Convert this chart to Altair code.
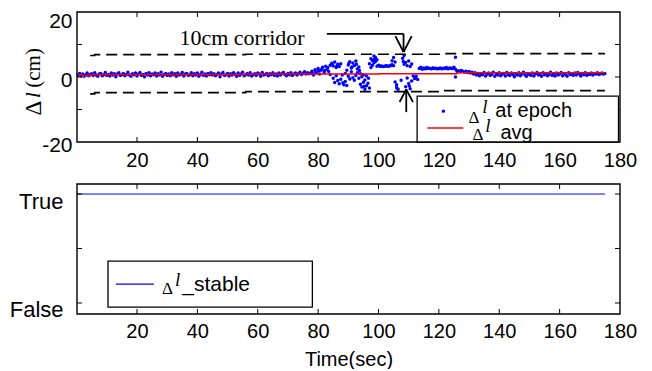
import altair as alt
import pandas as pd

BLUE = "#0000ff"
RED = "#ff0000"
SANS = "Liberation Sans"
SERIF = "Liberation Serif"

# ---------------- data ----------------
x_ticks = [20, 40, 60, 80, 100, 120, 140, 160, 180]
y_ticks_top = [-20, -10, 0, 10, 20]
y_ticks_bottom = [0, 0.5, 1]

# stable band before the disturbance, epochs every 0.5 s starting at 0.5 s
band1_start = 0.5
band1_vals = [
    0.6, 1.1, 0.3, 0.9, 0.2, 0.7, 1.2, 0.4, 0.8, 1.0,
    0.5, 1.3, 0.6, 0.2, 0.9, 1.1, 0.4, 0.7, 1.4, 0.5,
    0.8, 0.3, 1.2, 0.6, 1.0, 0.1, 0.9, 1.3, 0.5, 0.7,
    1.1, 0.4, 0.8, 1.5, 0.6, 0.2, 1.0, 0.7, 1.2, 0.3,
    0.9, 1.4, 0.5, 0.8, 0.1, 1.1, 0.6, 1.3, 0.4, 0.9,
    0.7, 1.2, 0.3, 1.0, 0.6, 1.5, 0.2, 0.8, 1.1, 0.5,
    0.9, 0.4, 1.3, 0.7, 1.0, 0.2, 1.2, 0.6, 0.8, 1.4,
    0.3, 0.9, 1.1, 0.5, 0.7, 1.3, 0.4, 1.0, 0.6, 1.2,
    0.2, 0.8, 1.5, 0.5, 0.9, 0.3, 1.1, 0.7, 1.3, 0.6,
    1.0, 0.4, 0.8, 1.2, 0.1, 0.9, 1.4, 0.5, 0.7, 1.1,
    0.3, 1.0, 0.6, 1.3, 0.8, 0.2, 1.2, 0.5, 0.9, 1.5,
    0.4, 0.7, 1.1, 0.6, 1.3, 0.3, 0.8, 1.0, 0.5, 1.2,
    0.9, 0.2, 1.4, 0.6, 0.8, 1.1, 0.4, 1.0, 0.7, 1.3,
    0.5, 0.9, 0.3, 1.2, 0.6, 1.0, 1.4, 0.8, 0.4, 1.1,
    0.7, 1.3, 0.5, 0.9, 1.2, 0.6, 1.0, 1.5, 0.8, 1.1,
    1.6, 0.9, 1.3, 1.0,
]

# disturbed section (epoch time, value)
cluster_t = [
    77.5, 78.0, 78.5, 79.0, 79.5, 80.0, 80.5, 81.0, 81.5, 82.0,
    82.5, 83.0, 83.5, 84.0, 84.0, 84.5, 85.0, 85.0, 85.5, 85.5,
    86.0, 86.0, 86.5, 86.5, 87.0, 87.0, 87.5, 87.5, 88.0, 88.5,
    89.0, 89.0, 89.5, 89.5, 90.0, 90.0, 90.5, 90.5, 91.0, 91.0,
    91.5, 91.5, 92.0, 92.0, 92.5, 92.5, 93.0, 93.0, 93.5, 93.5,
    94.0, 94.0, 94.5, 94.5, 95.0, 95.0, 95.5, 95.5, 96.0, 96.0,
    96.5, 97.0, 97.0, 97.5, 97.5, 98.0, 98.0, 98.5, 98.5, 99.0,
    99.0, 99.5, 99.5, 100.0, 100.5, 101.0, 101.5, 102.0, 102.5, 103.0,
    103.5, 104.0, 104.5, 104.5, 105.0, 105.0, 105.5, 105.5, 106.0, 106.0,
    106.5, 107.5, 108.0, 108.5, 108.5, 109.0, 109.0, 109.5, 109.5, 110.0,
    110.0, 110.5, 110.5, 111.0, 111.0, 111.5, 112.0, 112.5, 113.0, 113.5,
    114.0, 114.5, 115.0, 115.5, 116.0, 116.5, 117.0, 117.5, 118.0, 118.5,
    119.0, 119.5, 120.0, 120.5, 121.0, 121.5, 122.0, 122.5, 123.0, 123.5,
    124.0, 124.5, 125.0, 125.5, 125.5, 125.5, 126.0,
    78.2, 79.2, 80.2, 81.2, 82.2, 83.2, 84.7, 86.2, 88.2, 90.2,
    91.2, 92.7, 93.7, 95.2, 96.7, 98.7, 100.7, 102.7, 104.2, 106.2,
    108.2, 110.2, 112.2, 114.2, 116.2, 118.2, 120.2, 122.2, 124.2,
]
cluster_v = [
    1.2, 1.8, 0.6, 2.2, 1.3, 2.6, 0.9, 2.1, 3.0, 1.4,
    3.3, 2.4, 1.7, 3.6, 0.8, 4.2, 3.4, -0.4, 4.6, -1.7,
    2.9, 0.4, 3.9, -1.1, 3.2, -2.1, -0.7, 4.1, 0.6, -2.4,
    -1.4, 1.1, -2.6, 2.1, 3.7, 0.2, 4.7, -0.6, 2.8, 1.6,
    4.3, -0.2, 3.5, -1.0, 4.9, 0.5, 2.5, 1.3, -0.4, 3.1,
    -2.2, 1.0, -3.1, 0.1, -1.6, 0.7, -3.8, -0.9, -2.7, 0.4,
    -1.9, -3.4, 4.1, 5.6, 2.9, 3.6, 5.1, 6.5, 4.4, 4.8,
    6.0, 3.3, 5.3, 3.6, 3.3, 3.4, 3.2, 3.3, 3.5, 3.4,
    3.3, 3.6, 3.8, 5.0, 3.5, 6.0, 4.6, -1.5, -3.2, -2.4,
    -3.8, -1.0, 5.8, 6.6, 3.9, 4.5, -3.0, 3.5, -0.3, 4.9,
    -2.0, 3.2, -3.6, 4.0, -1.2, 0.3, -0.5, 0.2, -0.8, 2.6,
    3.0, 2.4, 2.8, 2.5, 2.9, 2.6, 2.7, 2.5, 2.8, 2.6,
    2.7, 2.5, 2.6, 2.8, 2.5, 2.7, 2.6, 2.9, 2.5, 2.8,
    2.7, 2.6, 3.0, 2.4, 6.1, 0.0, 1.8,
    1.0, 1.5, 1.9, 2.5, 2.0, 2.9, 3.9, 3.4, -1.8, 4.2,
    3.1, 3.9, 2.0, -2.9, -0.4, 5.5, 3.3, 3.4, 3.5, -3.5,
    4.8, -2.8, -0.2, 2.7, 2.8, 2.7, 2.6, 2.8, 2.6,
]

# stable band after the disturbance, epochs every 0.5 s starting at 126.5 s
band2_start = 126.5
band2_vals = [
    1.9, 1.6, 2.0, 1.7, 1.5, 1.8, 1.4, 1.7, 1.2, 1.5,
    0.9, 1.3, 0.6, 1.1, 0.4, 1.0, 0.7, 1.4, 0.3, 0.9,
    1.2, 0.5, 0.8, 1.5, 0.2, 1.0, 0.6, 1.3, 0.4, 0.9,
    1.1, 0.3, 1.4, 0.7, 0.5, 1.2, 0.8, 0.1, 1.0, 0.6,
    1.3, 0.4, 0.9, 1.5, 0.7, 0.2, 1.1, 0.8, 0.5, 1.2,
    0.3, 1.0, 1.4, 0.6, 0.9, 0.2, 1.3, 0.7, 1.1, 0.4,
    0.8, 1.5, 0.5, 1.0, 0.3, 1.2, 0.6, 0.9, 1.4, 0.4,
    1.1, 0.7, 0.2, 1.3, 0.8, 1.0, 0.5, 1.2, 0.6, 1.4,
    0.9, 0.3, 1.1, 0.7, 1.3, 0.5, 1.0, 0.8, 1.2, 0.6,
    1.1, 0.9, 1.3, 0.8, 1.0, 1.2, 0.9, 1.1,
]

# running average (step values)
avg_t = [0.13, 2.0, 4.5, 56.0, 100.0, 126.0, 175.0]
avg_v = [0.8, 0.3, 0.8, 0.9, 1.0, 1.3, 1.3]

# corridor bounds (step values)
upper_t = [4.5, 6.0, 56.0, 121.0, 175.0]
upper_v = [6.6, 6.9, 7.0, 7.2, 7.2]
lower_t = [4.5, 6.0, 56.0, 121.0, 175.0]
lower_v = [-5.2, -4.8, -4.5, -4.2, -4.2]

# stability flag
stable_t = [0.13, 175.0]
stable_v = [1, 1]

# ---------------- tables ----------------
t1 = [band1_start + 0.5 * i for i in range(len(band1_vals))]
t3 = [band2_start + 0.5 * i for i in range(len(band2_vals))]
epoch_df = pd.DataFrame({"t": t1 + cluster_t + t3, "v": band1_vals + cluster_v + band2_vals})
avg_df = pd.DataFrame({"t": avg_t, "v": avg_v})
corr_df = pd.DataFrame({
    "t": upper_t + lower_t,
    "v": upper_v + lower_v,
    "side": ["upper"] * len(upper_t) + ["lower"] * len(lower_t),
})
stable_df = pd.DataFrame({"t": stable_t, "v": stable_v})
one = pd.DataFrame({"k": [0]})

W, H = 543, 130
X_DOMAIN = [0.13, 180]
Y_TOP = [-20, 20]
Y_BOT = [-0.101, 1.092]
xs = alt.Scale(domain=X_DOMAIN, nice=False, zero=False, range=[0, W])
ys_top = alt.Scale(domain=Y_TOP, nice=False, zero=False)
ys_bot = alt.Scale(domain=Y_BOT, nice=False, zero=False)


def txt(s, x, y, font=SANS, size=21, style="normal", align="left", angle=0, baseline="alphabetic"):
    return alt.Chart(one).mark_text(
        text=s, align=align, baseline=baseline, font=font, fontSize=size,
        fontStyle=style, color="black", angle=angle,
    ).encode(x=alt.datum(x), y=alt.datum(y))


def seg(x1, y1, x2, y2, w=1.8, color="black"):
    return alt.Chart(one).mark_rule(color=color, strokeWidth=w).encode(
        x=alt.datum(x1), y=alt.datum(y1), x2=alt.datum(x2), y2=alt.datum(y2)
    )


def box(x1, y1, x2, y2, fill="white", w=1.3):
    return alt.Chart(one).mark_rect(fill=fill, stroke="black", strokeWidth=w).encode(
        x=alt.datum(x1), y=alt.datum(y1), x2=alt.datum(x2), y2=alt.datum(y2)
    )


def inner_ticks(ydom, tick_vals_y, xlen, ylen):
    xt = pd.DataFrame({"t": x_ticks[:-1]})
    yt = pd.DataFrame({"v": tick_vals_y})
    base_x = alt.Chart(xt).mark_rule(color="black", strokeWidth=1)
    base_y = alt.Chart(yt).mark_rule(color="black", strokeWidth=1)
    return [
        base_x.encode(x="t:Q", y=alt.datum(ydom[0]), y2=alt.datum(ydom[0] + ylen)),
        base_x.encode(x="t:Q", y=alt.datum(ydom[1]), y2=alt.datum(ydom[1] - ylen)),
        base_y.encode(y="v:Q", x=alt.datum(X_DOMAIN[0]), x2=alt.datum(X_DOMAIN[0] + xlen)),
        base_y.encode(y="v:Q", x=alt.datum(X_DOMAIN[1]), x2=alt.datum(X_DOMAIN[1] - xlen)),
        # plot frame
        box(X_DOMAIN[0], ydom[0], X_DOMAIN[1], ydom[1], fill="transparent", w=1.4),
    ]


# ---------------- top panel ----------------
pts = alt.Chart(epoch_df).mark_circle(size=12, color=BLUE, opacity=1).encode(
    x=alt.X("t:Q", scale=xs, axis=alt.Axis(
        values=x_ticks, title=None, labelFontSize=20, labelPadding=8, labelFlush=False)),
    y=alt.Y("v:Q", scale=ys_top, axis=alt.Axis(
        values=y_ticks_top, title=None, labelPadding=5, labelFontSize=21,
        labelExpr="datum.value < 0 ? '-' + (-datum.value) : '' + datum.value",
        labelOffset={"condition": {"test": "datum.value == 20", "value": 9}, "value": 3})),
)
avg_line = alt.Chart(avg_df).mark_line(color=RED, strokeWidth=1.5, interpolate="step-after").encode(
    x="t:Q", y="v:Q")
corr = alt.Chart(corr_df).mark_line(
    color="black", strokeWidth=1.6, strokeDash=[11, 6], interpolate="step-after"
).encode(x="t:Q", y="v:Q", detail="side:N")

top_layers = [pts, avg_line, corr]
top_layers += inner_ticks(Y_TOP, [-10, 0, 10], 1.66, 1.54)
top_layers += [
    # y-axis title, built from pieces (upright delta, italic l, units)
    txt("Δ", -14.2, -9.6, font=SERIF, size=23, angle=270, align="center", baseline="middle"),
    txt("l", -14.2, -5.6, font=SERIF, size=21, style="italic", angle=270, align="center", baseline="middle"),
    txt("(cm)", -14.2, 2.8, font=SERIF, size=21, angle=270, align="center", baseline="middle"),
    txt("10cm corridor", 54.8, 9.85, font=SERIF, size=22, align="center"),
    # upper arrow
    seg(82.9, 13.3, 108.3, 13.3),
    seg(108.3, 13.3, 108.3, 7.7),
    seg(105.6, 12.6, 108.3, 7.7),
    seg(111.0, 12.6, 108.3, 7.7),
    # lower arrow
    seg(109.2, -10.8, 109.2, -3.8),
    seg(107.0, -7.7, 109.2, -3.8),
    seg(111.4, -7.7, 109.2, -3.8),
    # legend
    box(112.8, -5.9, 179.5, -20),
    alt.Chart(one).mark_circle(size=12, color=BLUE, opacity=1).encode(
        x=alt.datum(121.5), y=alt.datum(-10.5)),
    txt("Δ", 129.8, -14.2, font=SERIF, size=17),
    txt("l", 134.4, -11.2, font=SERIF, size=19, style="italic"),
    txt("at epoch", 138.7, -12.4, size=20),
    seg(116.2, -15.7, 128.1, -15.7, w=1.5, color=RED),
    txt("Δ", 131.1, -19.4, font=SERIF, size=17),
    txt("l", 135.4, -16.9, font=SERIF, size=19, style="italic"),
    txt("avg", 140.4, -19.0, size=20),
]
top = alt.layer(*top_layers).properties(width=W, height=H)

# ---------------- bottom panel ----------------
stable_line = alt.Chart(stable_df).mark_line(color=BLUE, strokeWidth=1).encode(
    x=alt.X("t:Q", scale=xs, axis=alt.Axis(
        values=x_ticks, title="Time(sec)", titleFontSize=20, titleFontWeight="normal",
        titlePadding=8, labelFontSize=20, labelPadding=7, labelFlush=False)),
    y=alt.Y("v:Q", scale=ys_bot, axis=alt.Axis(
        values=y_ticks_bottom, title=None, labelFontSize=22, labelPadding=14, labelOffset=7,
        labelExpr="datum.value == 1 ? 'True' : (datum.value == 0 ? 'False' : '')")),
)
bot_layers = [stable_line]
bot_layers += inner_ticks(Y_BOT, y_ticks_bottom, 1.66, 0.046)
bot_layers += [
    box(10.4, 0.385, 78.1, -0.037),
    seg(13.0, 0.174, 25.6, 0.174, w=1.3, color=BLUE),
    txt("Δ", 28.3, 0.083, font=SERIF, size=17),
    txt("l", 32.6, 0.156, font=SERIF, size=19, style="italic"),
    txt("_stable", 35.0, 0.110),
]
bottom = alt.layer(*bot_layers).properties(width=W, height=H)

chart = alt.vconcat(top, bottom, spacing=13).properties(
    padding={"left": 1, "top": 2, "right": 5, "bottom": 0}
).configure_view(stroke="transparent", strokeWidth=0).configure_axis(
    domain=False, ticks=False, grid=False, labelColor="black", titleColor="black",
    labelFont=SANS, titleFont=SANS,
)

chart.save("out.html", embed_options={"renderer": "svg", "actions": False})
